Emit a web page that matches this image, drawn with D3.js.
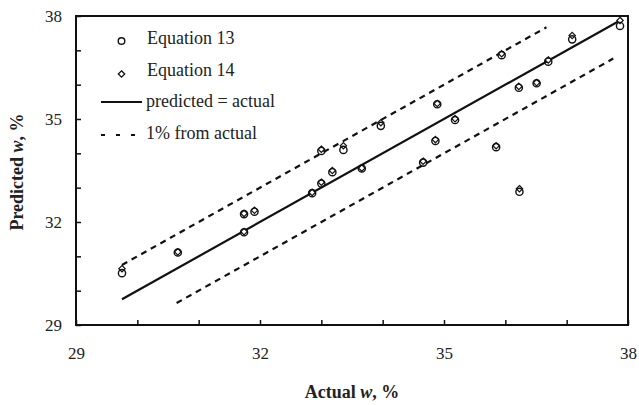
<!DOCTYPE html>
<html>
<head>
<meta charset="utf-8">
<script src="https://cdn.jsdelivr.net/npm/d3@7"></script>
<style>
  body { margin: 0; background: #fff; }
  svg text { font-family: "Liberation Serif", "DejaVu Serif", serif; }
</style>
</head>
<body>
<div id="app"></div>
<script>
// values
var actual = [29.75, 30.66, 31.74, 31.74, 31.91, 32.85, 33.0, 33.0, 33.18, 33.36, 33.66, 33.97,
              34.66, 34.86, 34.89, 35.18, 35.85, 35.94, 36.22, 36.23, 36.51, 36.70, 37.09, 37.87];
var eq13 = [30.51, 31.11, 31.70, 32.23, 32.30, 32.84, 33.12, 34.07, 33.45, 34.10, 33.56, 34.80,
            33.73, 34.36, 35.43, 34.97, 34.18, 36.86, 35.91, 32.88, 36.04, 36.67, 37.32, 37.71];
var eq14 = [30.64, 31.13, 31.72, 32.25, 32.34, 32.86, 33.16, 34.12, 33.50, 34.22, 33.57, 34.89,
            33.77, 34.40, 35.45, 35.01, 34.22, 36.90, 35.95, 32.97, 36.06, 36.72, 37.43, 37.87];
var idealLine = [29.75, 37.87];
var upperLine = [29.75, 36.67];   // actual + 1
var lowerLine = [30.64, 37.76];   // actual - 1
var tickValues = [29, 30, 31, 32, 33, 34, 35, 36, 37, 38];
var labelValues = [29, 32, 35, 38];
var legendLabels = ["Equation 13", "Equation 14", "predicted = actual", "1% from actual"];

var width = 639, height = 405;
var plot = { left: 76, right: 628, top: 16, bottom: 325 };
var serif = '"Liberation Serif", "DejaVu Serif", serif';

var svg = d3.select('#app')
    .append('svg')
    .attr('width', width)
    .attr('height', height);

var x = d3.scaleLinear().domain([29, 38]).range([plot.left, plot.right]);
var y = d3.scaleLinear().domain([29, 38]).range([plot.bottom, plot.top]);

// axes, ticks inward
var fmt = function(d) { return labelValues.indexOf(d) >= 0 ? d : ''; };

var xAxis = svg.append('g')
    .attr('transform', 'translate(0,' + plot.bottom + ')')
    .call(d3.axisBottom(x).tickValues(tickValues).tickSizeInner(-5).tickSizeOuter(0).tickPadding(22).tickFormat(fmt));
var yAxis = svg.append('g')
    .attr('transform', 'translate(' + plot.left + ',0)')
    .call(d3.axisLeft(y).tickValues(tickValues).tickSizeInner(-5).tickSizeOuter(0).tickPadding(14).tickFormat(fmt));

[xAxis, yAxis].forEach(function(a) {
    a.attr('font-family', serif).attr('font-size', 17);
    a.select('.domain').remove();
    a.selectAll('.tick line').attr('stroke', '#111').attr('stroke-width', 1.5);
    a.selectAll('.tick text').attr('fill', '#222');
});

// frame
svg.append('rect')
    .attr('x', plot.left)
    .attr('y', plot.top)
    .attr('width', plot.right - plot.left)
    .attr('height', plot.bottom - plot.top)
    .attr('fill', 'none')
    .attr('stroke', '#111')
    .attr('stroke-width', 2);

// reference lines
function drawRef(xs, offset, dash) {
    svg.append('line')
        .attr('x1', x(xs[0])).attr('y1', y(xs[0] + offset))
        .attr('x2', x(xs[1])).attr('y2', y(xs[1] + offset))
        .attr('stroke', '#111')
        .attr('stroke-width', 2.2)
        .attr('stroke-dasharray', dash);
}
drawRef(idealLine, 0, null);
drawRef(upperLine, 1, '6,5');
drawRef(lowerLine, -1, '6,5');

// points
var diamond = d3.symbol().type(d3.symbolDiamond2).size(26);

svg.append('g').selectAll('path')
    .data(actual)
    .enter()
    .append('path')
    .attr('d', diamond)
    .attr('transform', function(d, i) { return 'translate(' + x(d) + ',' + y(eq14[i]) + ')'; })
    .attr('fill', '#fff')
    .attr('stroke', '#111')
    .attr('stroke-width', 1.2);

svg.append('g').selectAll('circle')
    .data(actual)
    .enter()
    .append('circle')
    .attr('cx', function(d) { return x(d); })
    .attr('cy', function(d, i) { return y(eq13[i]); })
    .attr('r', 3.6)
    .attr('fill', 'none')
    .attr('stroke', '#111')
    .attr('stroke-width', 1.4);

// legend
var legendRows = [44, 76, 107, 139];
var legend = svg.append('g');

legend.append('circle')
    .attr('cx', 121.5).attr('cy', legendRows[0] - 3).attr('r', 3.3)
    .attr('fill', '#fff').attr('stroke', '#111').attr('stroke-width', 1.4);
legend.append('path')
    .attr('d', diamond)
    .attr('transform', 'translate(121.5,' + (legendRows[1] - 2) + ')')
    .attr('fill', '#fff').attr('stroke', '#111').attr('stroke-width', 1.3);
legend.append('line')
    .attr('x1', 101).attr('x2', 142)
    .attr('y1', legendRows[2] - 5).attr('y2', legendRows[2] - 5)
    .attr('stroke', '#111').attr('stroke-width', 2.2);
legend.append('line')
    .attr('x1', 101).attr('x2', 137)
    .attr('y1', legendRows[3] - 4).attr('y2', legendRows[3] - 4)
    .attr('stroke', '#111').attr('stroke-width', 2.2)
    .attr('stroke-dasharray', '4,11');

legend.selectAll('text')
    .data(legendLabels)
    .enter()
    .append('text')
    .attr('x', function(d, i) { return i < 2 ? 147 : 146; })
    .attr('y', function(d, i) { return legendRows[i]; })
    .attr('fill', '#222')
    .attr('font-family', serif)
    .attr('font-size', 18)
    .text(function(d) { return d; });

// axis titles
var xTitle = svg.append('text')
    .attr('x', 352)
    .attr('y', 398)
    .attr('text-anchor', 'middle')
    .attr('font-family', serif)
    .attr('font-weight', 'bold')
    .attr('font-size', 18)
    .attr('fill', '#222');
xTitle.append('tspan').text('Actual ');
xTitle.append('tspan').attr('font-style', 'italic').text('w');
xTitle.append('tspan').text(', %');

var yTitle = svg.append('text')
    .attr('transform', 'translate(23,172) rotate(-90)')
    .attr('text-anchor', 'middle')
    .attr('font-family', serif)
    .attr('font-weight', 'bold')
    .attr('font-size', 18)
    .attr('fill', '#222');
yTitle.append('tspan').text('Predicted ');
yTitle.append('tspan').attr('font-style', 'italic').text('w');
yTitle.append('tspan').text(', %');
</script>
</body>
</html>
